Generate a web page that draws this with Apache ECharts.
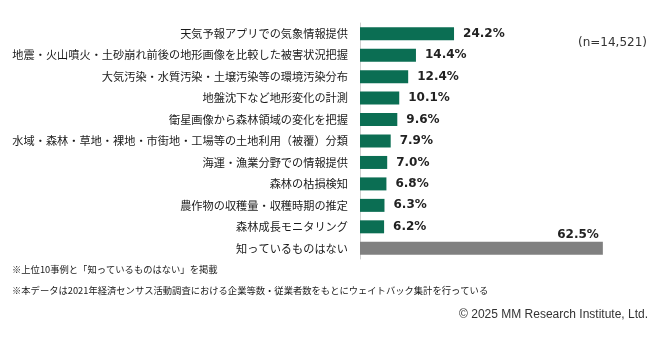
<!DOCTYPE html>
<html>
<head>
<meta charset="utf-8">
<script src="https://cdn.jsdelivr.net/npm/echarts@6/dist/echarts.min.js"></script>
<style>html,body{margin:0;padding:0;background:#fff}#c{width:665px;height:338px}</style>
</head>
<body>
<div id="c"></div>
<script>
const categories = [
  '天気予報アプリでの気象情報提供',
  '地震・火山噴火・土砂崩れ前後の地形画像を比較した被害状況把握',
  '大気汚染・水質汚染・土壌汚染等の環境汚染分布',
  '地盤沈下など地形変化の計測',
  '衛星画像から森林領域の変化を把握',
  '水域・森林・草地・裸地・市街地・工場等の土地利用（被覆）分類',
  '海運・漁業分野での情報提供',
  '森林の枯損検知',
  '農作物の収穫量・収穫時期の推定',
  '森林成長モニタリング',
  '知っているものはない'
];
const values = [24.2, 14.4, 12.4, 10.1, 9.6, 7.9, 7.0, 6.8, 6.3, 6.2, 62.5];
const noteLines = [
  '※上位10事例と「知っているものはない」を掲載',
  '※本データは2021年経済センサス活動調査における企業等数・従業者数をもとにウェイトバック集計を行っている'
];
const sampleText = '(n=14,521)';
const copyrightText = '© 2025 MM Research Institute, Ltd.';

const GREEN = '#0b6e53';
const GRAY = '#808080';
const lastIdx = values.length - 1;

const seriesData = values.map((v, i) => {
  if (i === lastIdx) {
    return {
      value: v,
      itemStyle: { color: GRAY },
      label: {
        position: ['100%', 0],
        align: 'right',
        verticalAlign: 'bottom',
        offset: [-4, -1]
      }
    };
  }
  return { value: v, itemStyle: { color: GREEN } };
});

const chart = echarts.init(document.getElementById('c'), null, { renderer: 'canvas' });
chart.setOption({
  animation: false,
  backgroundColor: '#fff',
  grid: { left: 360, right: 33, top: 23, bottom: 79, containLabel: false },
  xAxis: {
    type: 'value', min: 0, max: 70,
    show: false
  },
  yAxis: {
    type: 'category',
    data: categories,
    inverse: true,
    axisLine: { show: true, lineStyle: { color: '#d0d0d0', width: 1 } },
    axisTick: { show: false },
    axisLabel: {
      margin: 12,
      fontSize: 11.2,
      color: '#1a1a1a',
      fontFamily: '"Noto Sans CJK JP", sans-serif'
    }
  },
  series: [{
    type: 'bar',
    data: seriesData,
    barWidth: 13,
    label: {
      show: true,
      position: 'right',
      distance: 9,
      formatter: p => p.value.toFixed(1) + '%',
      fontFamily: '"DejaVu Sans", sans-serif',
      fontWeight: 'bold',
      fontSize: 12,
      color: '#222'
    }
  }],
  graphic: [
    { type: 'text', left: 578, top: 37, style: { text: sampleText, font: '12px "DejaVu Sans", sans-serif', fill: '#333' } },
    { type: 'text', left: 12, top: 265, style: { text: noteLines[0], font: '9.3px "Noto Sans CJK JP", sans-serif', fill: '#1a1a1a' } },
    { type: 'text', left: 12, top: 286, style: { text: noteLines[1], font: '9.3px "Noto Sans CJK JP", sans-serif', fill: '#1a1a1a' } },
    { type: 'text', right: 17, top: 309, style: { text: copyrightText, font: '12px "Liberation Sans", Arial, sans-serif', fill: '#333' } }
  ]
});
</script>
</body>
</html>
